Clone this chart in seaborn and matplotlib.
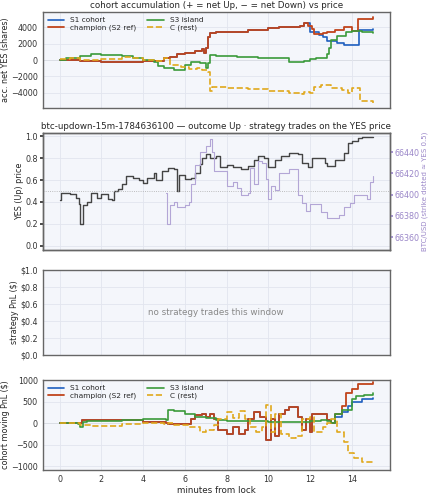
import numpy as np
import pandas as pd
import matplotlib
matplotlib.use("Agg")
import matplotlib.pyplot as plt
import seaborn as sns

sns.set_theme(style="whitegrid")
plt.rcParams['font.family'] = ['DejaVu Sans']

# ---- data: cohort accumulation (shares)
champ_acc_t = [0,0.5,1,2,2.5,3.5,4,4.7,5.0,5.3,5.6,6,6.5,6.8,6.9,7.0,7.1,7.2,7.5,8,9,10,10.5,11,11.5,11.7,11.9,12.1,12.2,12.6,12.8,13.2,13.6,14.0,14.3,15]
champ_acc_v = [0,-50,-150,-200,-300,-250,-100,-150,200,400,700,900,1100,1300,900,1500,2800,3300,3500,3500,3700,3900,4100,4100,4200,4500,4200,3800,3200,3300,3500,3700,4000,3600,5100,5300]
s1_acc_t = champ_acc_t[:26] + [12.0,12.4,12.6,12.8,13.3,13.6,14.2,14.35,15]
s1_acc_v = champ_acc_v[:26] + [3500,3100,2800,2300,2100,1900,1800,3700,3800]
s3_acc_t = [0,0.3,1,1.5,2,3,3.5,4,4.5,4.7,5,5.5,6,6.3,6.7,7,7.1,7.2,7.5,8.5,9.5,10,11,11.5,11.7,12,12.3,12.8,12.9,13.0,13.3,13.7,14,14.5,15]
s3_acc_v = [0,300,500,700,600,500,200,0,-200,-700,-1000,-1200,-600,-300,-400,-1000,-400,600,500,400,200,300,-200,-300,-100,100,300,700,1500,2500,2900,3500,3600,3400,3300]
c_acc_t = [0,0.5,1,2,3,3.5,4,4.5,5,5.3,5.8,6.2,6.6,6.8,7.1,7.2,7.3,8,9,10,11,11.6,11.7,12,12.2,12.5,13,13.5,13.8,14.0,14.3,14.4,15]
c_acc_v = [100,200,0,100,400,200,0,-100,300,-600,-800,-1100,-1000,-1200,-1500,-3800,-3300,-3400,-3600,-3800,-4000,-4200,-3900,-4000,-3300,-3100,-3500,-3700,-4100,-3500,-3500,-5000,-5300]

# ---- data: YES price and BTC
yes_t = [0,0.05,0.5,0.8,0.95,1.0,1.1,1.3,1.5,1.8,2.0,2.3,2.5,2.6,2.8,3.0,3.2,3.5,3.8,4.0,4.2,4.5,4.6,4.9,5.2,5.5,5.6,5.7,6.0,6.3,6.5,6.7,6.8,7.0,7.2,7.5,7.7,8.0,8.3,8.7,9.0,9.3,9.5,9.8,10.0,10.3,10.6,11.0,11.4,11.6,11.9,12.1,12.5,12.7,12.8,13.2,13.6,13.8,14.0,14.3,14.5,15]
yes_v = [0.42,0.48,0.47,0.44,0.38,0.20,0.37,0.40,0.48,0.44,0.47,0.43,0.42,0.50,0.52,0.56,0.64,0.62,0.60,0.57,0.62,0.66,0.60,0.68,0.71,0.70,0.50,0.65,0.61,0.62,0.66,0.75,0.80,0.84,0.80,0.82,0.72,0.74,0.72,0.70,0.73,0.78,0.82,0.80,0.72,0.78,0.82,0.85,0.84,0.76,0.72,0.80,0.80,0.76,0.73,0.78,0.85,0.94,0.96,0.98,0.99,0.99]
btc_t = [5.1,5.15,5.3,5.5,5.6,5.8,6.0,6.2,6.3,6.5,6.7,7.0,7.2,7.3,7.4,7.7,8.0,8.3,8.5,8.7,9.0,9.1,9.3,9.5,9.7,9.9,10.0,10.1,10.3,10.5,11.0,11.4,11.6,11.8,12.0,12.5,12.8,13.2,13.4,13.6,13.9,14.1,14.5,14.7,14.85,15.0]
btc_v = [66402,66372,66390,66393,66388,66388,66390,66393,66410,66428,66440,66446,66452,66440,66422,66422,66408,66412,66406,66400,66402,66425,66410,66432,66430,66415,66396,66408,66404,66420,66424,66400,66392,66385,66391,66384,66378,66378,66381,66388,66392,66400,66400,66396,66412,66418]

# ---- data: cohort moving PnL ($)
champ_pnl_t = [0,1.0,1.05,1.2,2,3,4,5.1,5.2,6,6.3,6.5,6.8,7.0,7.2,7.4,7.6,8.0,8.3,8.6,8.9,9.0,9.3,9.6,9.9,10.1,10.3,10.5,10.8,11.0,11.4,11.6,11.8,12.0,12.1,12.5,12.8,13.0,13.2,13.5,13.7,14.0,14.3,15]
champ_pnl_v = [0,-10,60,70,70,60,20,0,-30,-30,100,180,200,150,200,100,-150,-250,-100,-250,-150,100,250,150,-400,100,-300,200,300,380,150,-150,100,-200,200,200,60,0,200,400,700,800,900,950]
s1_pnl_t = champ_pnl_t[:37] + [13.0,13.2,13.5,13.8,14.0,14.5,15]
s1_pnl_v = champ_pnl_v[:37] + [0,150,250,400,500,550,580]
s3_pnl_t = [0,0.9,1.0,1.1,1.3,2,3,4,4.5,5.1,5.2,5.5,6,6.5,7,7.5,8,9,10,11,12,12.5,12.8,13.0,13.2,13.5,14,14.2,14.6,15]
s3_pnl_v = [0,-20,-80,20,40,50,60,90,100,70,300,270,220,150,120,70,50,40,30,30,50,80,50,0,200,300,550,630,650,700]
c_pnl_t = [0,1,1.5,2,3,4,5,5.2,5.5,6,6.2,6.7,7.0,7.4,7.6,8,8.3,8.6,8.9,9.1,9.4,9.7,9.9,10.1,10.3,10.6,11.0,11.3,11.6,12,12.2,12.6,12.8,13.0,13.3,13.6,13.8,14.1,14.5,15]
c_pnl_v = [0,-50,-70,-60,-30,0,-20,-10,-50,-50,-100,-200,-150,-50,100,250,120,280,100,-100,-200,-100,420,-200,200,-250,-350,-300,100,150,-200,-100,0,100,-200,-450,-700,-800,-900,-950]

cohorts = ["S1 cohort", "champion (S2 ref)", "S3 island", "C (rest)"]
colors = {"S1 cohort": "#1f5fbf", "champion (S2 ref)": "#c0441c", "S3 island": "#3a9a3a", "C (rest)": "#e0a81c"}

def frame(series):
    rows = []
    for name, (t, v) in zip(cohorts, series):
        rows += [(name, a, b) for a, b in zip(t, v)]
    return pd.DataFrame(rows, columns=["cohort", "t", "v"])

acc = frame([(s1_acc_t, s1_acc_v), (champ_acc_t, champ_acc_v), (s3_acc_t, s3_acc_v), (c_acc_t, c_acc_v)])
pnl = frame([(s1_pnl_t, s1_pnl_v), (champ_pnl_t, champ_pnl_v), (s3_pnl_t, s3_pnl_v), (c_pnl_t, c_pnl_v)])

fig = plt.figure(figsize=(4.29, 5.0), dpi=100)
L, W = 0.100, 0.808
axes = [fig.add_axes([L, 0.784, W, 0.192]),
        fig.add_axes([L, 0.500, W, 0.234]),
        fig.add_axes([L, 0.290, W, 0.170]),
        fig.add_axes([L, 0.060, W, 0.180])]

LS = 5.8
face = "#f4f6fb"
for ax in axes:
    ax.set_facecolor(face)
    ax.grid(True, color="#e2e5ee", lw=0.6)
    for s in ax.spines.values():
        s.set_color("#666666"); s.set_linewidth(1.0)
    ax.set_xlim(-0.8, 15.8)
    ax.set_xticks(range(0, 15, 2))
    ax.tick_params(labelsize=LS, length=2.5, pad=1.2, colors="#333333")

def draw_cohorts(ax, df):
    for name in cohorts:
        d = df[df.cohort == name]
        sns.lineplot(data=d, x="t", y="v", ax=ax, color=colors[name], label=name,
                     drawstyle="steps-post", lw=1.2 if name != "champion (S2 ref)" else 1.3,
                     linestyle="--" if name == "C (rest)" else "-", estimator=None, sort=False)
    ax.axhline(0, color="#bbbbbb", lw=0.7, zorder=0)
    ax.legend(ncol=2, fontsize=5.3, frameon=False, loc="upper left", handlelength=2.2,
              columnspacing=1.5, borderaxespad=0.3, labelspacing=0.2)
    ax.set_xlabel("")

ax = axes[0]
draw_cohorts(ax, acc)
ax.set_ylim(-5900, 5900)
ax.set_yticks([-4000, -2000, 0, 2000, 4000])
ax.set_ylabel("acc. net YES (shares)", fontsize=LS, labelpad=0.5)
ax.set_title("cohort accumulation (+ = net Up, − = net Down) vs price", fontsize=6.3, pad=3)
ax.tick_params(labelbottom=False)

ax = axes[1]
sns.lineplot(x=yes_t, y=yes_v, ax=ax, color="#444444", lw=1.0, drawstyle="steps-post", estimator=None, sort=False)
ax.axhline(0.5, color="#aaaaaa", lw=0.6, ls=":")
ax.set_ylim(-0.04, 1.03)
ax.set_yticks([0, 0.2, 0.4, 0.6, 0.8, 1.0])
ax.set_ylabel("YES (Up) price", fontsize=LS, labelpad=1)
ax.set_title("btc-updown-15m-1784636100 — outcome Up · strategy trades on the YES price", fontsize=6.3, pad=3)
ax.tick_params(labelbottom=False)
ax2 = ax.twinx()
sns.lineplot(x=btc_t, y=btc_v, ax=ax2, color="#b3a6d6", lw=0.8, drawstyle="steps-post", estimator=None, sort=False)
ax2.set_ylim(66348, 66458)
ax2.set_yticks([66360, 66380, 66400, 66420, 66440])
ax2.grid(False)
ax2.tick_params(labelsize=LS, colors="#9a86c8", length=2.5, pad=1.2)
ax2.set_ylabel("BTC/USD (strike dotted ≈ YES 0.5)", fontsize=5.0, color="#9a86c8", labelpad=1.5)
for s in ax2.spines.values():
    s.set_color("#666666"); s.set_linewidth(1.0)

ax = axes[2]
ax.set_ylim(0, 1)
ax.set_yticks([0, 0.2, 0.4, 0.6, 0.8, 1.0])
ax.set_yticklabels(["$0.0", "$0.2", "$0.4", "$0.6", "$0.8", "$1.0"])
ax.set_ylabel("strategy PnL ($)", fontsize=LS, labelpad=1)
ax.text(7.5, 0.5, "no strategy trades this window", ha="center", va="center", fontsize=6.3, color="#888888")
ax.tick_params(labelbottom=False)

ax = axes[3]
draw_cohorts(ax, pnl)
ax.set_ylim(-1090, 1000)
ax.set_yticks([-1000, -500, 0, 500, 1000])
ax.set_ylabel("cohort moving PnL ($)", fontsize=LS, labelpad=0.5)
ax.set_xlabel("minutes from lock", fontsize=6.3, labelpad=1)

fig.savefig("out.png", dpi=100)
